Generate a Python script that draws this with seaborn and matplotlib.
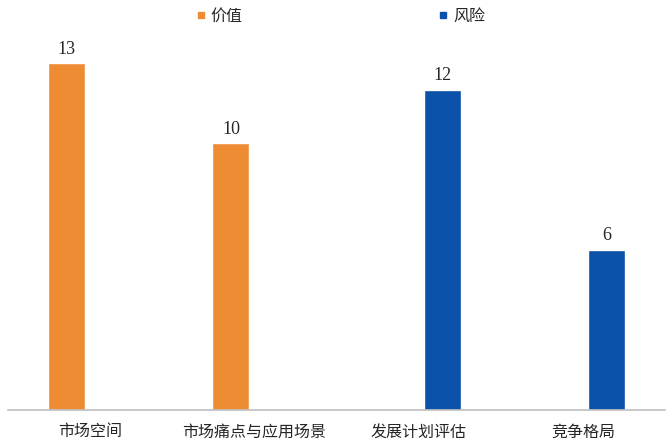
import matplotlib
matplotlib.use("Agg")
import matplotlib.pyplot as plt
from matplotlib.lines import Line2D
import pandas as pd
import seaborn as sns

# chart data
CATEGORIES = ["市场空间", "市场痛点与应用场景", "发展计划评估", "竞争格局"]
SERIES = ["价值", "价值", "风险", "风险"]
VALUES = [13, 10, 12, 6]
HUE_ORDER = ["价值", "风险"]
COLORS = {"价值": "#EE8C33", "风险": "#0B50A9"}

CJK = ["Noto Sans CJK SC", "DejaVu Sans"]
NUM_FONT = ["Liberation Serif", "DejaVu Serif"]

sns.set_style("white")
plt.rcParams["font.family"] = CJK

df = pd.DataFrame({"category": CATEGORIES, "series": SERIES, "value": VALUES})

fig = plt.figure(figsize=(6.7, 4.46), dpi=100)
ax = fig.add_axes([8 / 670, 36.5 / 446, 657 / 670, 373 / 446])

sns.barplot(ax=ax, data=df, x="category", y="value", hue="series",
            order=CATEGORIES, hue_order=HUE_ORDER, palette=COLORS,
            width=0.57, gap=0.21, dodge=True, saturation=1, legend=False)

for cont in ax.containers:
    ax.bar_label(cont, fmt="%d", padding=4, fontsize=13, family=NUM_FONT,
                 color="#262626")

ax.set_ylim(0, 14)
ax.set_xlim(-0.5, 3.5)
ax.set_yticks([])
ax.set_xlabel("")
ax.set_ylabel("")
ax.tick_params(axis="x", length=0, pad=10, labelsize=11.5, colors="#262626")
for side in ["top", "right", "left"]:
    ax.spines[side].set_visible(False)
ax.spines["bottom"].set_color("#BFBFBF")
ax.spines["bottom"].set_linewidth(1.2)

handles = [Line2D([], [], marker="s", linestyle="", markersize=5,
                  color=COLORS[s]) for s in HUE_ORDER]
fig.legend(handles, HUE_ORDER, loc="center", bbox_to_anchor=(0.508, 0.963),
           ncol=2, frameon=False, fontsize=11.5, handlelength=0.6,
           handletextpad=0.3, columnspacing=12.3, labelcolor="#262626")

fig.savefig("out.png", dpi=100)
